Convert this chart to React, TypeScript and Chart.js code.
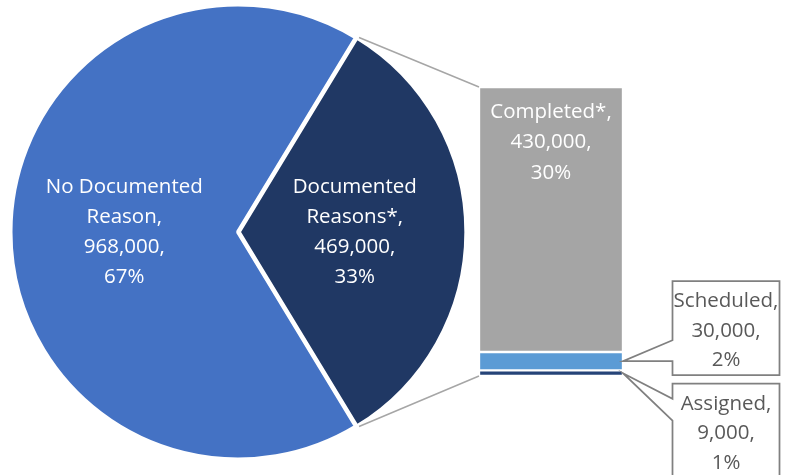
import React, { useEffect, useRef } from "react";
import { Chart, registerables } from "chart.js";

Chart.register(...registerables);

// ---- data ----
const pieCategories = ["No Documented Reason", "Documented Reasons*"];
const pieLabelLines = [["No Documented", "Reason,"], ["Documented", "Reasons*,"]];
const pieValues = [968000, 469000];
const pieColors = ["#4472C4", "#203864"];

const barCategories = ["Assigned", "Scheduled", "Completed*"];
const barValues = [9000, 30000, 430000];
const barColors = ["#264478", "#5B9BD5", "#A5A5A5"];

// ---- style ----
const W = 796;
const H = 475;
const FONT = '20.5px "Open Sans"';
const LINE = 30;

const total = pieValues.reduce((a, b) => a + b, 0);
const barTotal = barValues.reduce((a, b) => a + b, 0);
const fmt = (v: number) => v.toLocaleString("en-US");
const pct = (v: number) => Math.round((v / total) * 100) + "%";

const pieLabelPlugin = {
  id: "pieLabels",
  afterDatasetsDraw(chart: any) {
    const ctx = chart.ctx;
    const meta = chart.getDatasetMeta(0);
    ctx.save();
    ctx.font = FONT;
    ctx.fillStyle = "#ffffff";
    ctx.textAlign = "center";
    ctx.textBaseline = "middle";
    meta.data.forEach((arc: any, i: number) => {
      const p = arc.getProps(["x", "y", "startAngle", "endAngle", "outerRadius"], true);
      const off = arc.options.offset || 0;
      const mid = (p.startAngle + p.endAngle) / 2;
      const cx = p.x + Math.cos(mid) * (p.outerRadius / 2 + off);
      const cy = p.y + Math.sin(mid) * (p.outerRadius / 2 + off);
      const lines = [...pieLabelLines[i], fmt(pieValues[i]) + ",", pct(pieValues[i])];
      const y0 = cy - ((lines.length - 1) * LINE) / 2;
      lines.forEach((t, k) => ctx.fillText(t, cx, y0 + k * LINE));
    });
    ctx.restore();
  },
};

function makeBarPlugin(getPie: () => any) {
  return {
    id: "barExtras",
    afterDatasetsDraw(chart: any) {
      const ctx = chart.ctx;
      const els = barValues.map((_, i) => chart.getDatasetMeta(i).data[0]);
      const top = els[2];
      const bottom = els[0];
      const barLeft = top.x - top.width / 2;
      const barRight = top.x + top.width / 2;

      // connectors from the pie's "Documented" slice to the bar
      const pie = getPie();
      if (pie) {
        const arc = pie.getDatasetMeta(0).data[1];
        const p = arc.getProps(["x", "y", "startAngle", "endAngle", "outerRadius"], true);
        const off = arc.options.offset || 0;
        const mid = (p.startAngle + p.endAngle) / 2;
        const cx = p.x + Math.cos(mid) * off;
        const cy = p.y + Math.sin(mid) * off;
        const R = p.outerRadius;
        ctx.save();
        ctx.strokeStyle = "#A6A6A6";
        ctx.lineWidth = 1.5;
        ctx.beginPath();
        ctx.moveTo(cx + R * Math.cos(p.startAngle), cy + R * Math.sin(p.startAngle));
        ctx.lineTo(barLeft, top.y);
        ctx.moveTo(cx + R * Math.cos(p.endAngle), cy + R * Math.sin(p.endAngle));
        ctx.lineTo(barLeft, bottom.base);
        ctx.stroke();
        ctx.restore();
      }

      ctx.save();
      ctx.font = FONT;
      ctx.textAlign = "center";
      ctx.textBaseline = "middle";

      // Completed label inside the bar
      ctx.fillStyle = "#ffffff";
      const cl = [barCategories[2] + ",", fmt(barValues[2]) + ",", pct(barValues[2])];
      cl.forEach((t, k) => ctx.fillText(t, top.x, top.y + 25 + k * 30.5));

      // callouts
      const drawCallout = (i: number, T: number, h: number, b1: number, b2: number) => {
        const el = els[i];
        const tipX = barRight;
        const tipY = (el.y + el.base) / 2;
        const L = barRight + 49.5;
        const Wd = 107;
        ctx.beginPath();
        ctx.moveTo(L, T);
        ctx.lineTo(L + Wd, T);
        ctx.lineTo(L + Wd, T + h);
        ctx.lineTo(L, T + h);
        ctx.lineTo(L, T + b2);
        ctx.lineTo(tipX, tipY);
        ctx.lineTo(L, T + b1);
        ctx.closePath();
        ctx.fillStyle = "#ffffff";
        ctx.fill();
        ctx.strokeStyle = "#808080";
        ctx.lineWidth = 1.75;
        ctx.stroke();
        ctx.fillStyle = "#595959";
        const lines = [barCategories[i] + ",", fmt(barValues[i]) + ",", pct(barValues[i])];
        lines.forEach((t, k) => ctx.fillText(t, L + Wd / 2, T + 20 + k * 29.5));
        return tipY;
      };
      const sEl = els[1];
      const sTip = (sEl.y + sEl.base) / 2;
      drawCallout(1, sTip - 80, 94, 59, 80);
      const aEl = els[0];
      const aTip = (aEl.y + aEl.base) / 2;
      drawCallout(0, aTip + 10.5, 98, 15, 37);

      ctx.restore();
    },
  };
}

export default function App() {
  const pieRef = useRef<HTMLCanvasElement | null>(null);
  const barRef = useRef<HTMLCanvasElement | null>(null);

  useEffect(() => {
    let pieChart: any = null;
    const frac = pieValues[1] / total;
    pieChart = new Chart(pieRef.current!, {
      type: "pie",
      data: {
        labels: pieCategories,
        datasets: [
          {
            data: pieValues,
            backgroundColor: pieColors,
            borderColor: "#ffffff",
            borderWidth: 4,
            offset: [0, 3],
          },
        ],
      },
      options: {
        responsive: false,
        animation: false,
        rotation: 90 + 180 * frac,
        layout: { padding: { left: 7, right: 327, top: 1, bottom: 12 } },
        plugins: { legend: { display: false }, tooltip: { enabled: false } },
        events: [],
      },
      plugins: [pieLabelPlugin],
    } as any);

    const barChart = new Chart(barRef.current!, {
      type: "bar",
      data: {
        labels: ["Documented Reasons*"],
        datasets: barCategories.map((c, i) => ({
          label: c,
          data: [barValues[i]],
          backgroundColor: barColors[i],
          borderColor: "#ffffff",
          borderWidth: 1.5,
          borderSkipped: false,
          barPercentage: 1,
          categoryPercentage: 1,
        })),
      },
      options: {
        responsive: false,
        animation: false,
        layout: { padding: { left: 479, right: 173, top: 87, bottom: 99 } },
        plugins: { legend: { display: false }, tooltip: { enabled: false } },
        events: [],
        scales: {
          x: { display: false, stacked: true },
          y: { display: false, stacked: true, min: 0, max: barTotal },
        },
      },
      plugins: [makeBarPlugin(() => pieChart)],
    } as any);

    return () => {
      barChart.destroy();
      pieChart.destroy();
    };
  }, []);

  return (
    <div style={{ position: "fixed", left: 0, top: 0, width: W, height: H, background: "#ffffff" }}>
      <canvas ref={pieRef} width={W} height={H} style={{ position: "absolute", left: 0, top: 0, width: W, height: H }} />
      <canvas ref={barRef} width={W} height={H} style={{ position: "absolute", left: 0, top: 0, width: W, height: H }} />
    </div>
  );
}
